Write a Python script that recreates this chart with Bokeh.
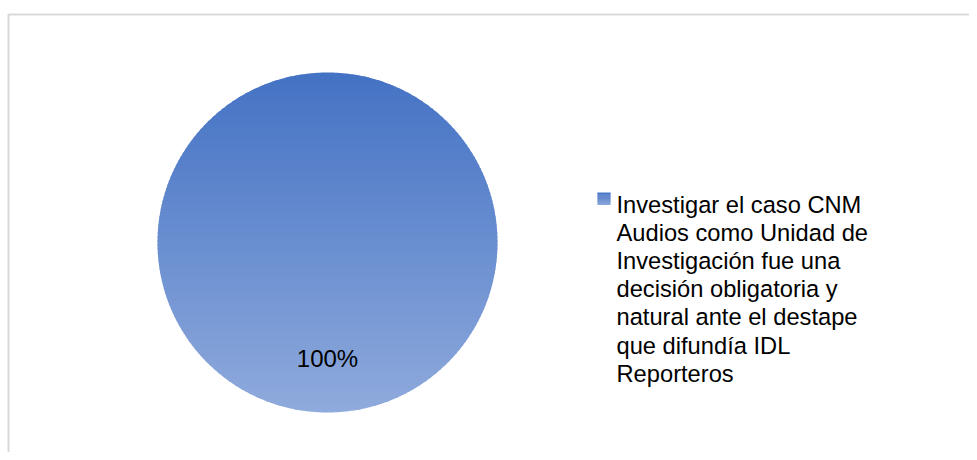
import textwrap
import numpy as np
from bokeh.plotting import figure
from bokeh.models import Range1d
from bokeh.core.properties import value
from bokeh.embed import file_html
from bokeh.resources import INLINE

# ---- data ----
categories = ["Investigar el caso CNM Audios como Unidad de Investigación fue una "
              "decisión obligatoria y natural ante el destape que difundía IDL Reporteros"]
values = [100]
percent_labels = ["100%"]

# ---- layout (pixels, 1 data unit = 1 px) ----
W, H = 969, 452
CX, CY, R = 327, 210, 170
TOP_RGB = np.array([68, 114, 196])
BOT_RGB = np.array([143, 170, 220])
FONT = value("Liberation Sans")

p = figure(width=W, height=H, output_backend="svg", toolbar_location=None,
           x_range=Range1d(0, W), y_range=Range1d(0, H), min_border=0,
           x_axis_type=None, y_axis_type=None)
p.grid.visible = False
p.outline_line_color = None
p.background_fill_color = "white"
p.border_fill_color = "white"

# chart area border (cropped on right / bottom)
p.line([8, 8, W + 5], [-5, 438, 438], line_color="#D9D9D9", line_width=2)


def grad_color(y, ytop, ybot):
    t = (ytop - y) / (ytop - ybot)
    t = min(max(t, 0.0), 1.0)
    c = TOP_RGB + (BOT_RGB - TOP_RGB) * t
    return "#%02x%02x%02x" % tuple(int(round(v)) for v in c)


def clip_y(poly, ylo, yhi):
    def clip(pts, keep, inter):
        out = []
        n = len(pts)
        for i in range(n):
            cur, prev = pts[i], pts[i - 1]
            if keep(cur):
                if not keep(prev):
                    out.append(inter(prev, cur))
                out.append(cur)
            elif keep(prev):
                out.append(inter(prev, cur))
        return out

    def at(yv):
        def f(a, b):
            t = (yv - a[1]) / (b[1] - a[1])
            return (a[0] + t * (b[0] - a[0]), yv)
        return f

    pts = clip(poly, lambda q: q[1] >= ylo, at(ylo))
    if not pts:
        return pts
    pts = clip(pts, lambda q: q[1] <= yhi, at(yhi))
    return pts


total = float(sum(values))
cum = 0.0
strip_xs, strip_ys, strip_cols = [], [], []
label_x, label_y = [], []
for v in values:
    a0 = np.pi / 2 - 2 * np.pi * cum / total
    a1 = np.pi / 2 - 2 * np.pi * (cum + v) / total
    cum += v
    angs = np.linspace(a0, a1, 721)
    poly = [(CX + R * np.cos(a), CY + R * np.sin(a)) for a in angs]
    if abs(a1 - a0) < 2 * np.pi - 1e-9:
        poly = [(CX, CY)] + poly
    nstrips = 85
    edges = np.linspace(CY + R, CY - R, nstrips + 1)  # top to bottom
    for i in range(nstrips):
        # each strip overlaps the next one so no seams show
        sub = clip_y(poly, edges[i + 1] - 1.5, edges[i])
        if len(sub) >= 3:
            strip_xs.append([q[0] for q in sub])
            strip_ys.append([q[1] for q in sub])
            strip_cols.append(grad_color(0.5 * (edges[i] + edges[i + 1]), CY + R, CY - R))
    mid = 0.5 * (a0 + a1)
    label_x.append(CX + 0.68 * R * np.cos(mid))
    label_y.append(CY + 0.68 * R * np.sin(mid))

p.patches(strip_xs, strip_ys, fill_color=strip_cols, line_color=None)

p.text(label_x, label_y, text=percent_labels, text_align="center", text_baseline="middle",
       text_font=FONT, text_font_size="24px", text_color="#000000")

# ---- legend ----
LX, LY_TOP, LS = 597, 260, 13
n_sq = 13
sq_edges = np.linspace(LY_TOP, LY_TOP - LS + 1, n_sq + 1)
p.quad(left=[LX] * n_sq, right=[LX + LS] * n_sq,
       top=list(sq_edges[:-1]), bottom=list(sq_edges[1:] - 0.5),
       fill_color=[grad_color(0.5 * (sq_edges[i] + sq_edges[i + 1]), LY_TOP, LY_TOP - LS)
                   for i in range(n_sq)],
       line_color=None)

lines = textwrap.wrap(categories[0], width=23)
first_base, step = 248, 28.2
p.text([616] * len(lines), [first_base - i * step for i in range(len(lines))], text=lines,
       text_align="left", text_baseline="alphabetic",
       text_font=FONT, text_font_size="23.7px", text_color="#000000")

open("out.html", "w").write(file_html(p, INLINE))
